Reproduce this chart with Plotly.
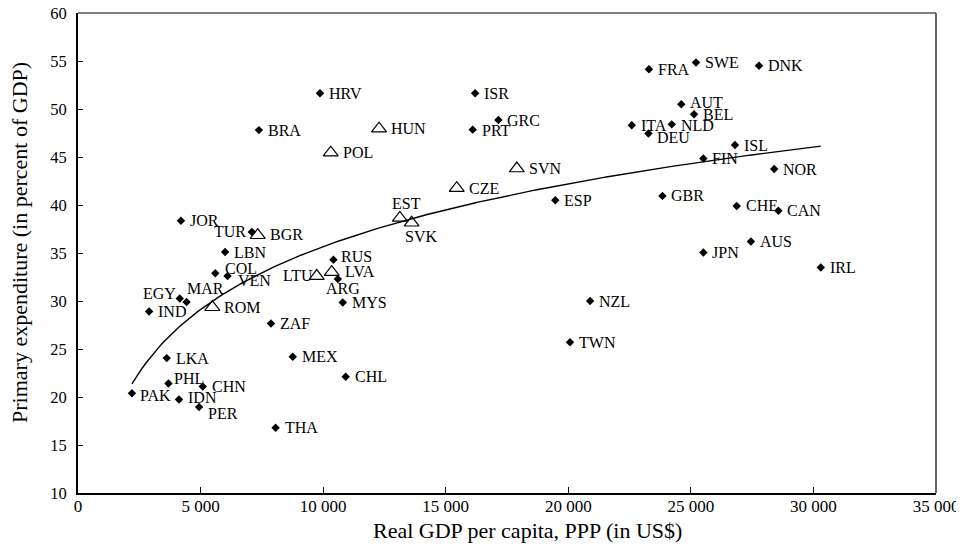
import numpy as np
import plotly.graph_objects as go

# ---- data: other economies (diamonds) ----
countries = ["PAK", "IND", "EGY", "MAR", "JOR", "TUR", "LBN", "COL", "VEN", "RUS",
             "ARG", "MYS", "ZAF", "LKA", "MEX", "CHL", "PHL", "CHN", "IDN", "PER",
             "THA", "BRA", "HRV", "ISR", "GRC", "PRT", "ESP", "FRA", "SWE", "DNK",
             "AUT", "BEL", "ITA", "NLD", "DEU", "ISL", "FIN", "NOR", "GBR", "CHE",
             "CAN", "AUS", "JPN", "IRL", "NZL", "TWN"]
gdp = [2200, 2900, 4150, 4430, 4200, 7090, 6000, 5600, 6100, 10420,
       10600, 10800, 7870, 3620, 8760, 10920, 3690, 5090, 4120, 4940,
       8060, 7380, 9870, 16200, 17150, 16100, 19470, 23290, 25210, 27780,
       24610, 25130, 22590, 24220, 23270, 26800, 25510, 28400, 23840, 26870,
       28570, 27450, 25510, 30300, 20890, 20070]
expenditure = [20.4, 28.9, 30.25, 29.9, 38.35, 37.2, 35.1, 32.9, 32.6, 34.3,
               32.3, 29.85, 27.65, 24.05, 24.2, 22.1, 21.4, 21.1, 19.75, 18.95,
               16.8, 47.8, 51.65, 51.65, 48.85, 47.85, 40.5, 54.15, 54.85, 54.5,
               50.5, 49.45, 48.3, 48.4, 47.45, 46.25, 44.85, 43.75, 40.95, 39.9,
               39.4, 36.2, 35.05, 33.5, 30.0, 25.7]

# ---- data: transition economies (open triangles) ----
trans_countries = ["BGR", "ROM", "LTU", "LVA", "HUN", "POL", "SVN", "CZE", "EST", "SVK"]
trans_gdp = [7330, 5480, 9740, 10350, 12280, 10310, 17900, 15450, 13130, 13610]
trans_expenditure = [36.85, 29.35, 32.6, 33.0, 47.95, 45.45, 43.8, 41.75, 38.65, 38.15]

x_ticks = list(range(0, 35001, 5000))
y_ticks = list(range(10, 61, 5))

# ---- label placement (xanchor, x shift px, y shift px) ----
default_diamond = ("left", 8, 0)
default_triangle = ("left", 11, 0)
label_style = {
    "TUR": ("right", -5, 0), "EGY": ("right", -3, 5), "MAR": ("left", -1, 13),
    "COL": ("left", 9, 5), "VEN": ("left", 9, -4), "LTU": ("right", -3, 1),
    "ARG": ("center", 5, -10), "RUS": ("left", 7, 3), "PHL": ("left", 5, 5),
    "PER": ("left", 8, -6), "IDN": ("left", 8, 2), "PAK": ("left", 7, -2),
    "EST": ("center", 7, 14), "SVK": ("center", 9, -14), "DEU": ("left", 8, -4),
    "AUT": ("left", 8, 2), "NLD": ("left", 8, -1), "PRT": ("left", 8, -1),
    "BGR": ("left", 11, 1), "LVA": ("left", 12, 1),
}

font_family = "Liberation Serif, Times New Roman, serif"

fig = go.Figure()

# fitted logarithmic trend over all economies
all_x = np.array(gdp + trans_gdp, dtype=float)
all_y = np.array(expenditure + trans_expenditure, dtype=float)
b, a = np.polyfit(np.log(all_x), all_y, 1)
xs = np.linspace(all_x.min(), all_x.max(), 200)
fig.add_trace(go.Scatter(x=xs, y=a + b * np.log(xs), mode="lines",
                         line=dict(color="black", width=1.4), hoverinfo="skip"))

fig.add_trace(go.Scatter(x=gdp, y=expenditure, mode="markers", text=countries,
                         marker=dict(symbol="diamond", size=6.5, color="black")))
fig.add_trace(go.Scatter(x=trans_gdp, y=trans_expenditure, mode="markers", text=trans_countries,
                         marker=dict(symbol="triangle-up-open", size=13, color="black",
                                     line=dict(width=1.2, color="black"))))

annotations = []
for names, xv, yv, dflt in ((countries, gdp, expenditure, default_diamond),
                            (trans_countries, trans_gdp, trans_expenditure, default_triangle)):
    for n, xx, yy in zip(names, xv, yv):
        xa, dx, dy = label_style.get(n, dflt)
        annotations.append(dict(x=xx, y=yy, xref="x", yref="y", text=n, showarrow=False,
                                xanchor=xa, yanchor="middle", xshift=dx, yshift=dy,
                                borderpad=0, font=dict(size=16, color="black", family=font_family)))

annotations.append(dict(text="Real GDP per capita, PPP (in US$)", x=0.524, y=-0.079,
                        xref="paper", yref="paper", showarrow=False, xanchor="center", yanchor="middle",
                        font=dict(size=22, color="black", family=font_family)))
annotations.append(dict(text="Primary expenditure (in percent of GDP)", x=-0.0676, y=0.523,
                        xref="paper", yref="paper", showarrow=False, textangle=-90,
                        xanchor="center", yanchor="middle",
                        font=dict(size=22, color="black", family=font_family)))

# the page body adds an 8px offset; size the figure so the plot area lands where the reference has it
fig.update_layout(
    width=956, height=535,
    margin=dict(l=70, r=28, t=5, b=50, autoexpand=False),
    paper_bgcolor="white", plot_bgcolor="white",
    showlegend=False,
    separators=". ",
    font=dict(family=font_family, color="black"),
    annotations=annotations,
    shapes=[
        dict(type="line", xref="paper", yref="paper", x0=0, x1=1, y0=1, y1=1,
             line=dict(color="#555555", width=1.5)),
        dict(type="line", xref="paper", yref="paper", x0=1, x1=1, y0=0, y1=1,
             line=dict(color="#333333", width=1.5)),
    ],
)
fig.update_xaxes(range=[0, 35000], tickvals=x_ticks, tickformat=",", showgrid=False, zeroline=False,
                 showline=True, linecolor="black", linewidth=2, ticks="inside", ticklen=6,
                 tickcolor="black", ticklabelstandoff=-3, automargin=False, ticklabeloverflow="allow",
                 tickfont=dict(size=17, family=font_family, color="black"))
fig.update_yaxes(range=[10, 60], tickvals=y_ticks, showgrid=False, zeroline=False,
                 showline=True, linecolor="black", linewidth=2, ticks="inside", ticklen=5,
                 tickcolor="black", ticklabelstandoff=6, automargin=False, ticklabeloverflow="allow",
                 tickfont=dict(size=16.5, family=font_family, color="black"))

fig.write_html("out.html")
